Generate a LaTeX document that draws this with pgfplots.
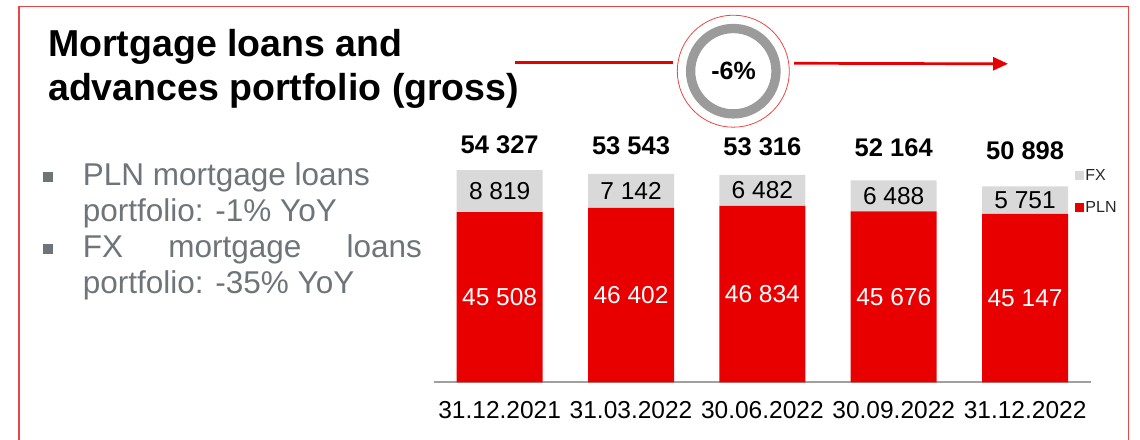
\documentclass[border=0pt]{standalone}
\usepackage{pgfplots}
\pgfplotsset{compat=1.18}
\usepackage{pgfplotstable}
\usepackage{fontspec}
\setmainfont{Liberation Sans}
\usetikzlibrary{arrows.meta}
\definecolor{barred}{RGB}{232,0,0}
\definecolor{fxgray}{RGB}{217,217,217}
\definecolor{ringgray}{RGB}{155,155,155}
\definecolor{framered}{RGB}{235,70,70}
\definecolor{arrowred}{RGB}{230,0,0}
\definecolor{bullgray}{RGB}{110,116,120}
\definecolor{axgray}{RGB}{160,160,160}

\pgfplotstableread{
x pln fx total off
0 45508 8819 54327 25.7
1 46402 7142 53543 28.3
2 46834 6482 53316 28.3
3 45676 6488 52164 32.6
4 45147 5751 50898 36
}\datatable

\begin{document}
\begin{tikzpicture}[x=1pt,y=1pt]
\useasboundingbox (0,0) rectangle (1140,439);
% frame
\draw[framered, line width=1.2pt] (19,-10) -- (19,432.5) -- (1128.3,432.5) -- (1128.3,-10);
% title
\node[anchor=base west, inner sep=0pt, font=\fontsize{37.5pt}{44pt}\selectfont\bfseries] at (48,382) {Mortgage loans and};
\node[anchor=base west, inner sep=0pt, font=\fontsize{37.5pt}{44pt}\selectfont\bfseries] at (48,338) {advances portfolio (gross)};
% bullets
\fill[bullgray] (43,257.3) rectangle (53,267.3);
\fill[bullgray] (43,184.7) rectangle (53,194.7);
\begin{scope}[every node/.style={anchor=base west, inner sep=0pt, text=bullgray, font=\fontsize{31.5pt}{36pt}\selectfont}]
\node at (82.7,253) {PLN mortgage loans};
\node at (82.7,217) {portfolio: -1\% YoY};
\node at (82.7,181) {\makebox[339pt][s]{FX\hfill mortgage\hfill loans}};
\node at (82.7,145) {portfolio: -35\% YoY};
\end{scope}
% arrow
\draw[arrowred, line width=2.7pt] (515,376.7) -- (673.3,376.7);
\draw[arrowred, line width=2.7pt, -{Triangle[length=15pt,width=13pt]}] (794,375.7) -- (1008,375.2);
% circle
\draw[framered, line width=0.8pt, fill=white] (733.3,367.8) circle (56);
\draw[ringgray, line width=9.3pt] (733.3,367.8) circle (42.7);
\node[font=\fontsize{25pt}{30pt}\selectfont\bfseries, inner sep=0pt] at (733.5,367.8) {-6\%};

% bars
\begin{axis}[
  at={(434pt,56.7pt)}, anchor=south west,
  scale only axis, width=656.75pt, height=239.2pt,
  xmin=-0.5, xmax=4.5, ymin=9750, ymax=60000,
  ybar stacked, bar width=86pt,
  axis x line*=bottom, hide y axis,
  x axis line style={axgray, line width=1.6pt},
  xtick={0,1,2,3,4},
  xticklabels={31.12.2021,31.03.2022,30.06.2022,30.09.2022,31.12.2022},
  major tick length=0pt, xtick style={draw=none},
  xticklabel style={font=\fontsize{24.5pt}{29pt}\selectfont, anchor=base, yshift=-36.5pt},
  reverse legend,
  legend image code/.code={\fill[#1] (0pt,-4.5pt) rectangle (9pt,4.5pt);},
  legend style={draw=none, fill=none, inner sep=0pt, at={(0.9756,0.898)}, anchor=north west,
    font=\fontsize{16pt}{19pt}\selectfont, text=black!85, row sep=17pt,
    cells={anchor=west}, nodes={inner sep=1.5pt}},
]
\addplot[fill=barred, draw=none] table[x=x, y=pln]{\datatable};
\addlegendentry{PLN}
\addplot[fill=fxgray, draw=none] table[x=x, y=fx]{\datatable};
\addlegendentry{FX}
\end{axis}

% labels
\begin{axis}[
  at={(434pt,56.7pt)}, anchor=south west,
  scale only axis, width=656.75pt, height=239.2pt,
  xmin=-0.5, xmax=4.5, ymin=9750, ymax=60000,
  hide axis, clip=false,
  point meta=explicit,
  nodes near coords={\pgfmathprintnumber[fixed, assume math mode=true, 1000 sep={\ }]{\pgfplotspointmeta}},
]
\addplot[draw=none, every node near coord/.append style={anchor=center, inner sep=0pt, text=white, font=\fontsize{24.5pt}{29pt}\selectfont}]
  table[x=x, y expr={(\thisrow{pln}+9750)/2}, meta=pln]{\datatable};
\addplot[draw=none, every node near coord/.append style={anchor=center, inner sep=0pt, text=black, font=\fontsize{24.5pt}{29pt}\selectfont}]
  table[x=x, y expr={\thisrow{pln}+\thisrow{fx}/2}, meta=fx]{\datatable};
\addplot[draw=none, visualization depends on={\thisrow{off} \as \myoff},
  every node near coord/.append style={anchor=center, inner sep=0pt, text=black, yshift=\myoff pt, font=\fontsize{25.5pt}{30pt}\selectfont\bfseries}]
  table[x=x, y=total, meta=total]{\datatable};
\end{axis}
\end{tikzpicture}
\end{document}
